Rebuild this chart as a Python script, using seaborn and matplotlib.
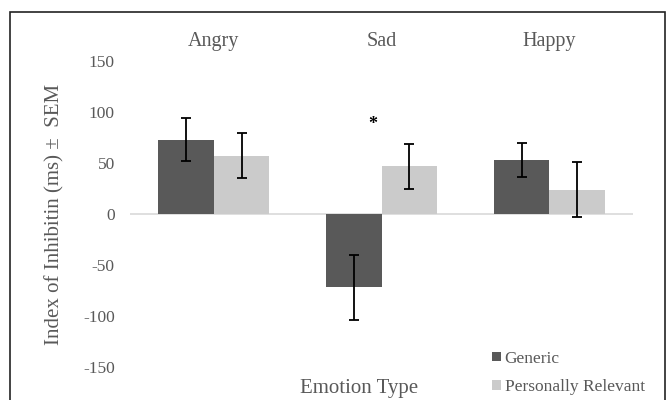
import pandas as pd
import matplotlib.pyplot as plt
import seaborn as sns
from matplotlib.patches import Rectangle

emotions = ['Angry', 'Sad', 'Happy']
conditions = ['Generic', 'Personally Relevant']
generic_mean = [73, -72, 53]
generic_sem = [21, 32, 17]
relevant_mean = [57, 47, 24]
relevant_sem = [22, 22, 27]
yticks = [-150, -100, -50, 0, 50, 100, 150]

df = pd.DataFrame({
    'Emotion': emotions * 2,
    'Condition': [conditions[0]] * 3 + [conditions[1]] * 3,
    'Index': generic_mean + relevant_mean,
    'SEM': generic_sem + relevant_sem,
})

sns.set_style('white')
plt.rcParams['font.family'] = ['Liberation Serif', 'DejaVu Serif']
text_col = '#595959'

fig = plt.figure(figsize=(6.7, 4.0), dpi=100)
ax = fig.add_axes([0.194, 0.0825, 0.751, 0.765])

sns.barplot(data=df, x='Emotion', y='Index', hue='Condition', order=emotions,
            hue_order=conditions, palette=['#595959', '#cbcbcb'],
            width=0.66, gap=0, errorbar=None, linewidth=0, saturation=1,
            legend=True, ax=ax)

# error bars from the seaborn bar geometry
for cont, cond in zip(ax.containers, conditions):
    sub = df[df['Condition'] == cond].set_index('Emotion').loc[emotions]
    xs = [p.get_x() + p.get_width() / 2 for p in cont]
    ax.errorbar(xs, sub['Index'], yerr=sub['SEM'], fmt='none', ecolor='black',
                elinewidth=1.3, capsize=3.5, capthick=1.3)

ax.axhline(0, color='#d9d9d9', lw=1.2, zorder=0)
ax.set_xlim(-0.5, 2.5)
ax.set_ylim(-150, 150)
ax.set_yticks(yticks)
ax.set_yticklabels([str(t) for t in yticks], color=text_col, fontsize=12.5)
ax.tick_params(axis='y', length=0, pad=11)
ax.xaxis.tick_top()
ax.tick_params(axis='x', length=0, pad=7, labelsize=14.5, labelcolor=text_col)
ax.set_xlabel('')
ax.set_ylabel('Index of Inhibitin (ms) \u00b1  SEM', fontsize=15, color=text_col, labelpad=13)
for s in ax.spines.values():
    s.set_visible(False)

ax.text(0.95, 88, '*', ha='center', va='center', fontsize=13, fontweight='bold', color='black')

fig.text(0.536, 0.03, 'Emotion Type', ha='center', va='center', fontsize=15, color=text_col)

h, l = ax.get_legend_handles_labels()
ax.legend(h, l, loc='upper left', bbox_to_anchor=(0.722, 0.145), bbox_transform=fig.transFigure,
          frameon=False, handlelength=0.5, handleheight=0.5, handletextpad=0.2,
          labelspacing=0.7, fontsize=12.5, labelcolor=text_col, borderpad=0)

fig.patches.append(Rectangle((10 / 670, -0.01), 655 / 670, 0.98, transform=fig.transFigure,
                             fill=False, edgecolor='#222222', lw=1.2))

fig.savefig('out.png', dpi=100)
